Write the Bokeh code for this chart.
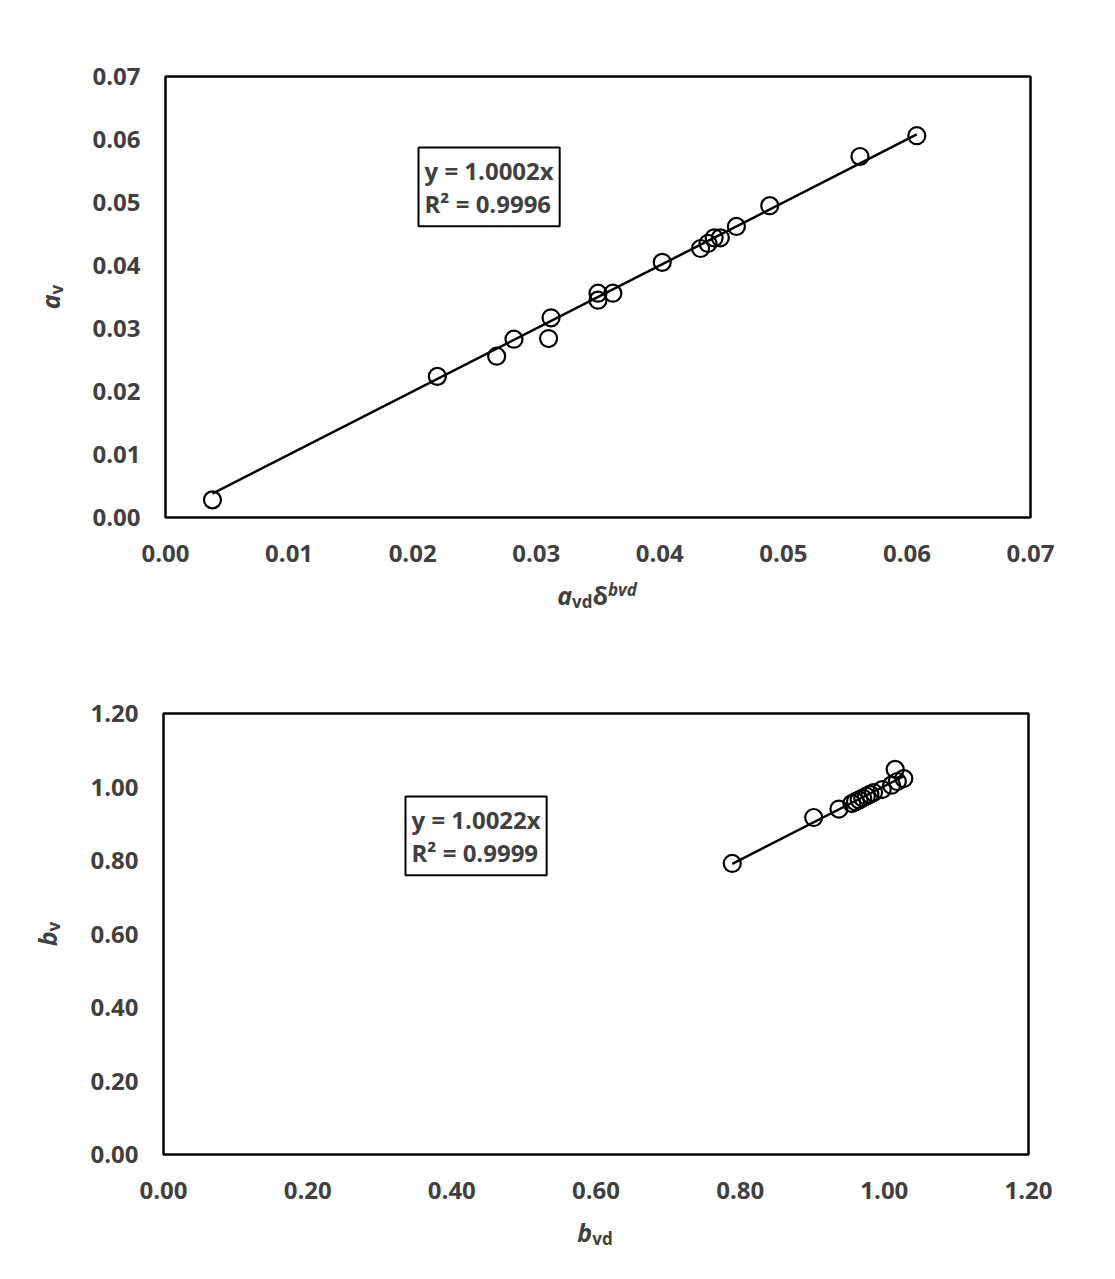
import numpy as np
from bokeh.plotting import figure
from bokeh.models import Range1d, FixedTicker, NumeralTickFormatter, Label, Div
from bokeh.layouts import column, row
from bokeh.embed import file_html
from bokeh.resources import INLINE

# ---------------- data ----------------
# top panel: a_vd * delta^bvd  vs  a_v
av_vd = [0.0038, 0.0220, 0.0268, 0.0282, 0.0310, 0.0312, 0.0350, 0.0350, 0.0362,
         0.0402, 0.0433, 0.0439, 0.0444, 0.0449, 0.0462, 0.0489, 0.0562, 0.0608]
av = [0.0028, 0.0224, 0.0256, 0.0283, 0.0284, 0.0317, 0.0356, 0.0345, 0.0356,
      0.0405, 0.0427, 0.0435, 0.0444, 0.0444, 0.0462, 0.0495, 0.0573, 0.0606]
slope_a = 1.0002
r2_a = 0.9996
ticks_a = [0.00, 0.01, 0.02, 0.03, 0.04, 0.05, 0.06, 0.07]

# bottom panel: b_vd vs b_v
bvd = [0.789, 0.902, 0.937, 0.955, 0.960, 0.965, 0.970, 0.975, 0.980, 0.985,
       0.997, 1.010, 1.015, 1.018, 1.027]
bv = [0.792, 0.917, 0.940, 0.955, 0.960, 0.965, 0.970, 0.975, 0.980, 0.985,
      0.993, 1.005, 1.048, 1.015, 1.023]
slope_b = 1.0022
r2_b = 0.9999
ticks_b = [0.00, 0.20, 0.40, 0.60, 0.80, 1.00, 1.20]

FONT = "Open Sans"
TXT = "#404040"
YLAB_W = 70


def make_fig(xmax, ticks, mbl, mbr, mbt, mbb):
    p = figure(width=mbl + 865 + mbr, height=mbt + 441 + mbb,
               x_range=Range1d(0, xmax), y_range=Range1d(0, xmax),
               min_border_left=mbl, min_border_right=mbr,
               min_border_top=mbt, min_border_bottom=mbb,
               output_backend="svg", toolbar_location=None)
    p.grid.visible = False
    p.outline_line_color = "black"
    p.outline_line_width = 2.5
    p.background_fill_color = "white"
    p.border_fill_color = "white"
    for ax in (p.xaxis[0], p.yaxis[0]):
        ax.ticker = FixedTicker(ticks=ticks)
        ax.formatter = NumeralTickFormatter(format="0.00")
        ax.axis_line_color = None
        ax.major_tick_line_color = None
        ax.minor_tick_line_color = None
        ax.major_tick_out = 0
        ax.major_tick_in = 0
        ax.major_label_text_font = FONT
        ax.major_label_text_font_style = "bold"
        ax.major_label_text_font_size = "24px"
        ax.major_label_text_color = TXT
    p.xaxis.major_label_standoff = 27
    p.yaxis.major_label_standoff = 25
    return p


def eq_box(p, x, y, slope, r2):
    p.add_layout(Label(x=x, y=y, x_units="screen", y_units="screen",
                       text=f"y = {slope:.4f}x\nR\u00b2 = {r2:.4f}",
                       text_font=FONT, text_font_style="bold",
                       text_font_size="24px", text_color=TXT,
                       text_align="left", text_baseline="top",
                       text_line_height=1.02,
                       border_line_color="black", border_line_width=2,
                       background_fill_color="white", padding=6))


BASE = f"font-family:'{FONT}'; font-weight:bold; font-size:25px; color:{TXT}; white-space:nowrap; line-height:25px;"
SUB = "font-size:17px; position:relative; top:3px;"
SUP = "font-size:17px; position:relative; top:-9px; font-style:italic;"


def xlabel_div(html, cx, top, w, h):
    return Div(text=f'<span style="position:absolute; left:{cx}px; top:{top}px; '
                    f'transform:translateX(-50%); {BASE}">{html}</span>',
               width=w, height=h, margin=0)


def ylabel_div(html, cx, cy, w, h):
    return Div(text=f'<span style="position:absolute; left:{cx}px; top:{cy}px; '
                    f'transform:translate(-50%,-50%) rotate(-90deg); {BASE}">{html}</span>',
               width=w, height=h, margin=0)


# ---------------- top ----------------
p1 = make_fig(0.07, ticks_a, 165 - YLAB_W, 70, 76, 60)
xa = np.array([min(av_vd), max(av_vd)])
p1.line(xa, slope_a * xa, line_color="black", line_width=2.5)
p1.scatter(av_vd, av, size=17, marker="circle", fill_color="white",
           fill_alpha=0.0, line_color="black", line_width=2.2)
eq_box(p1, 253, 370, slope_a, r2_a)

ylab1 = ylabel_div(f'<span style="font-style:italic">a</span><span style="{SUB}">v</span>',
                   52, 297, YLAB_W, p1.height)
xlab1 = xlabel_div(f'<span style="font-style:italic">a</span><span style="{SUB}">vd</span>'
                   f'\u03b4<span style="{SUP}">bvd</span>',
                   597, 6, YLAB_W + p1.width, 63)

# ---------------- bottom ----------------
p2 = make_fig(1.2, ticks_b, 163 - YLAB_W, 72, 73, 60)
xb = np.array([min(bvd), max(bvd)])
p2.line(xb, slope_b * xb, line_color="black", line_width=2.5)
p2.scatter(bvd, bv, size=17, marker="circle", fill_color="white",
           fill_alpha=0.0, line_color="black", line_width=2.2)
eq_box(p2, 242, 358, slope_b, r2_b)

ylab2 = ylabel_div(f'<span style="font-style:italic">b</span><span style="{SUB}">v</span>',
                   49, 294, YLAB_W, p2.height)
xlab2 = xlabel_div(f'<span style="font-style:italic">b</span><span style="{SUB}">vd</span>',
                   595, 6, YLAB_W + p2.width, 50)

layout = column(row(ylab1, p1), xlab1, row(ylab2, p2), xlab2)
open("out.html", "w").write(file_html(layout, INLINE))
